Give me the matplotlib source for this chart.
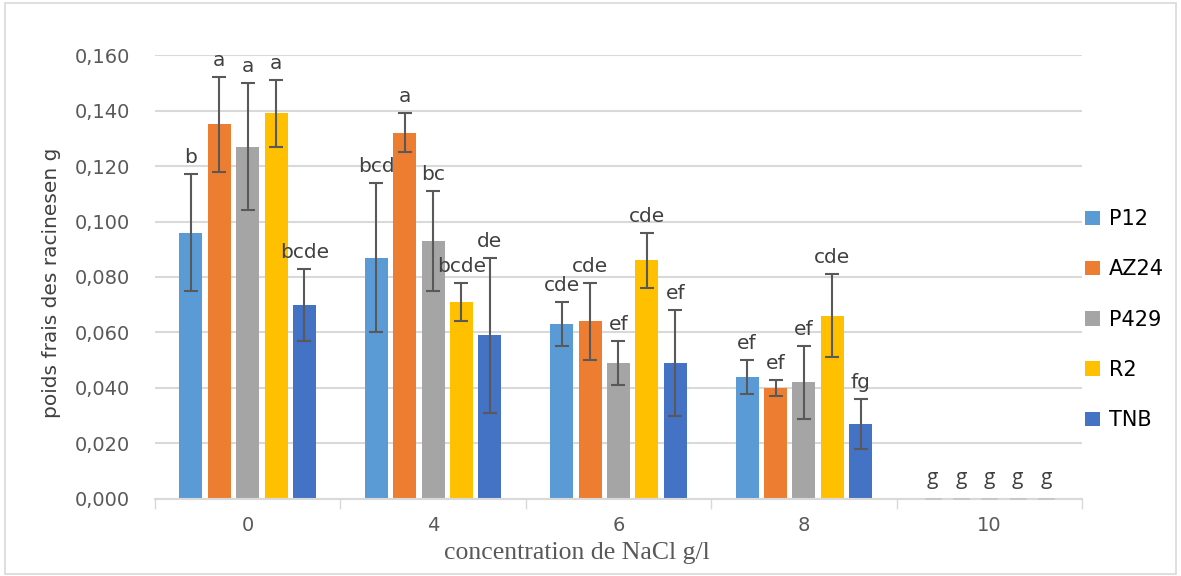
import numpy as np
import matplotlib
matplotlib.use('Agg')
import matplotlib.pyplot as plt
from matplotlib.patches import Rectangle, Patch

# data
concentrations = ['0', '4', '6', '8', '10']
lines = ['P12', 'AZ24', 'P429', 'R2', 'TNB']
colors = ['#5B9BD5', '#ED7D31', '#A5A5A5', '#FFC000', '#4472C4']

P12 = [0.096, 0.087, 0.063, 0.044, 0.0]
AZ24 = [0.135, 0.132, 0.064, 0.040, 0.0]
P429 = [0.127, 0.093, 0.049, 0.042, 0.0]
R2 = [0.139, 0.071, 0.086, 0.066, 0.0]
TNB = [0.070, 0.059, 0.049, 0.027, 0.0]

P12_err = [0.021, 0.027, 0.008, 0.006, 0.0]
AZ24_err = [0.017, 0.007, 0.014, 0.003, 0.0]
P429_err = [0.023, 0.018, 0.008, 0.013, 0.0]
R2_err = [0.012, 0.007, 0.010, 0.015, 0.0]
TNB_err = [0.013, 0.028, 0.019, 0.009, 0.0]

P12_lbl = ['b', 'bcd', 'cde', 'ef', 'g']
AZ24_lbl = ['a', 'a', 'cde', 'ef', 'g']
P429_lbl = ['a', 'bc', 'ef', 'ef', 'g']
R2_lbl = ['a', 'bcde', 'cde', 'cde', 'g']
TNB_lbl = ['bcde', 'de', 'ef', 'fg', 'g']

values = [P12, AZ24, P429, R2, TNB]
errors = [P12_err, AZ24_err, P429_err, R2_err, TNB_err]
letters = [P12_lbl, AZ24_lbl, P429_lbl, R2_lbl, TNB_lbl]

fig = plt.figure(figsize=(11.81, 5.76), dpi=100)
ax = fig.add_axes([0.1312, 0.1337, 0.785, 0.7708])

x = np.arange(len(concentrations))
spacing = 0.153
width = 0.124
for i, name in enumerate(lines):
    pos = x + (i - 2) * spacing
    ax.bar(pos, values[i], width, color=colors[i], zorder=2)
    for j in range(len(concentrations)):
        top = values[i][j] + errors[i][j]
        if values[i][j] == 0:
            # empty bar: only a faint cap on the baseline
            ax.errorbar(pos[j], 0, yerr=0, fmt='none', ecolor='#c8c8c8',
                        capsize=6, capthick=2, zorder=3)
            ax.annotate(letters[i][j], (pos[j], 0), xytext=(0, 7), textcoords='offset points',
                        ha='center', va='bottom', fontsize=15, color='#404040',
                        family='Open Sans')
        else:
            ax.errorbar(pos[j], values[i][j], yerr=errors[i][j], fmt='none', ecolor='#595959',
                        elinewidth=1.5, capsize=5, capthick=1.5, zorder=3)
            ax.annotate(letters[i][j], (pos[j], top), xytext=(0, 5), textcoords='offset points',
                        ha='center', va='bottom', fontsize=14.5, color='#404040')

ax.set_xlim(-0.5, 4.5)
ax.set_ylim(0, 0.16)
ax.set_yticks(np.arange(0, 0.161, 0.02))
ax.set_yticklabels([f'{v:.3f}'.replace('.', ',') for v in np.arange(0, 0.161, 0.02)])
ax.set_xticks(x)
ax.set_xticklabels(concentrations)
ax.set_xticks(np.arange(-0.5, 4.6, 1), minor=True)
ax.tick_params(axis='x', which='major', length=0, pad=12, labelsize=14, labelcolor='#595959')
ax.tick_params(axis='x', which='minor', length=7, color='#d9d9d9', width=1)
ax.tick_params(axis='y', length=0, pad=18, labelsize=14, labelcolor='#595959')
ax.grid(axis='y', color='#d9d9d9', linewidth=1.5, zorder=0)
for s in ['left', 'right', 'top']:
    ax.spines[s].set_visible(False)
ax.spines['bottom'].set_color('#d9d9d9')
ax.spines['bottom'].set_linewidth(1.5)

fig.text(52 / 1181, 1 - 283 / 576, 'poids frais des racinesen g', fontsize=14.5,
         color='#404040', rotation=90, ha='center', va='center')
fig.text(577 / 1181, 1 - 553 / 576, 'concentration de NaCl g/l', fontsize=18.5,
         color='#595959', family='Liberation Serif', ha='center', va='center')

handles = [Patch(facecolor=c, label=n) for c, n in zip(colors, lines)]
fig.legend(handles=handles, loc='center left', bbox_to_anchor=(0.903, 0.445),
           frameon=False, fontsize=15, handlelength=0.7, handleheight=0.7,
           handletextpad=0.45, labelspacing=1.45)

fig.patches.append(Rectangle((0.004, 0.004), 0.992, 0.99, transform=fig.transFigure,
                             fill=False, edgecolor='#d9d9d9', linewidth=1.2))

fig.savefig('out.png', dpi=100)
